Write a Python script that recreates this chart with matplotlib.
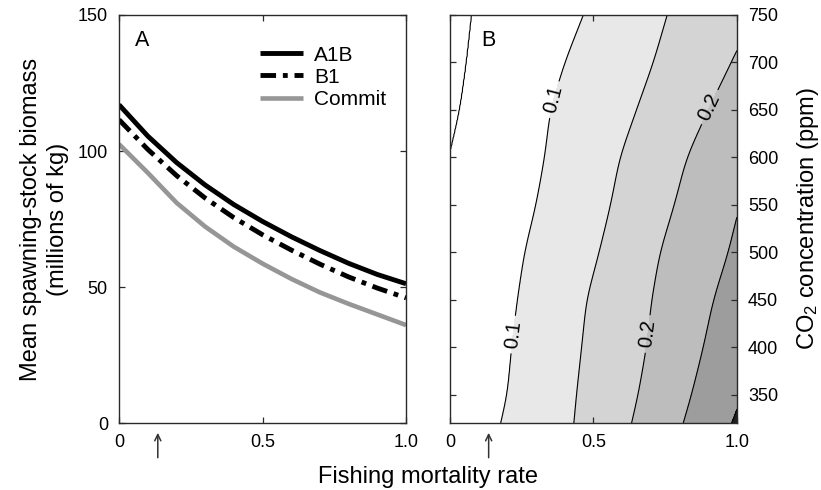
import matplotlib
matplotlib.use('Agg')
import matplotlib.pyplot as plt
import numpy as np

plt.rcParams['font.family'] = ['Liberation Sans', 'DejaVu Sans']
plt.rcParams['mathtext.fontset'] = 'custom'
plt.rcParams['mathtext.rm'] = 'Liberation Sans'
plt.rcParams['mathtext.it'] = 'Liberation Sans:italic'


# panel A - biomass against fishing rate
fishing_rate = [0, 0.1, 0.2, 0.3, 0.4, 0.5, 0.6, 0.7, 0.8, 0.9, 1.0]
biomass_a1b = [117, 105.5, 95.8, 87.5, 80.3, 74.1, 68.5, 63.4, 58.7, 54.6, 51.2]
biomass_b1 = [111.5, 100.6, 91, 82.7, 75.5, 69.2, 63.6, 58.4, 53.7, 49.6, 46]
biomass_commit = [102.5, 92, 81, 72.2, 64.8, 58.6, 53, 48, 43.8, 39.9, 36]

# panel B - fishing rate where each contour level crosses a CO2 row
co2_rows = [320, 350, 400, 450, 500, 550, 600, 650, 700, 750]
contour_levels = [0.05, 0.1, 0.15, 0.2, 0.25, 0.3]
labelled_levels = [0.1, 0.2]
cross_005 = [-0.2, -0.18, -0.15, -0.12, -0.09, -0.05, -0.003, 0.035, 0.058, 0.076]
cross_010 = [0.177, 0.2, 0.215, 0.235, 0.26, 0.30, 0.33, 0.35, 0.40, 0.465]
cross_015 = [0.432, 0.441, 0.459, 0.476, 0.52, 0.56, 0.592, 0.65, 0.709, 0.757]
cross_020 = [0.633, 0.656, 0.685, 0.703, 0.732, 0.782, 0.825, 0.9, 0.98, 1.06]
cross_025 = [0.813, 0.842, 0.883, 0.918, 0.97, 1.01, 1.07, 1.13, 1.2, 1.27]
cross_030 = [0.981, 1.02, 1.07, 1.12, 1.17, 1.22, 1.28, 1.34, 1.40, 1.46]

current_rate = 0.135


def smooth_along(vals, width=41):
    # hanning smoothing so the contour lines don't kink at each row
    k = np.hanning(width)
    k = k / k.sum()
    half = width // 2
    v = np.pad(vals, half, mode='reflect', reflect_type='odd')
    return np.convolve(v, k, mode='valid')


fig = plt.figure(figsize=(8.21, 4.9), dpi=100)
ax1 = fig.add_axes([0.145, 0.1367, 0.3496, 0.8327])
ax2 = fig.add_axes([0.548, 0.1367, 0.3496, 0.8327])

frame_col = '#2a2a2a'

# ---- panel A
ax1.plot(fishing_rate, biomass_a1b, color='black', lw=3.5, label='A1B', solid_capstyle='butt')
ax1.plot(fishing_rate, biomass_b1, color='black', lw=3.5, label='B1',
         dashes=(3.2, 1.4, 1.0, 1.4), dash_capstyle='butt')
ax1.plot(fishing_rate, biomass_commit, color='#969696', lw=3.3, label='Commit', solid_capstyle='butt')

ax1.set_xlim(0, 1)
ax1.set_ylim(0, 150)
ax1.set_xticks([0, 0.5, 1.0])
ax1.set_xticklabels(['0', '0.5', '1.0'])
ax1.set_yticks([0, 50, 100, 150])
ax1.set_ylabel('Mean spawning-stock biomass\n(millions of kg)', fontsize=17, linespacing=1.3)
ax1.yaxis.set_label_coords(-0.174, 0.5)
ax1.text(0.056, 0.962, 'A', transform=ax1.transAxes, fontsize=15.5, va='top', ha='left')

ax1.legend(loc='upper left', bbox_to_anchor=(0.49, 0.925), frameon=False, fontsize=15,
           handlelength=2.1, handletextpad=0.5, labelspacing=0.15, borderpad=0, borderaxespad=0)

# ---- panel B
yy = np.linspace(320, 750, 240)
xx = np.linspace(0, 1, 300)
crossings = [cross_005, cross_010, cross_015, cross_020, cross_025, cross_030]
fine = [smooth_along(np.interp(yy, co2_rows, c)) for c in crossings]
Z = np.zeros((len(yy), len(xx)))
for i in range(len(yy)):
    p = [f[i] for f in fine]
    Z[i] = np.interp(xx, [-2] + p + [3], [0.0] + contour_levels + [0.5])

fill_levels = [0] + contour_levels + [0.5]
fill_cols = ['white', 'white', '#e8e8e8', '#d4d4d4', '#bdbdbd', '#9d9d9d', '#1e1e1e']
ax2.contourf(xx, yy, Z, levels=fill_levels, colors=fill_cols)
plain_levels = [l for l in contour_levels if l not in labelled_levels]
ax2.contour(xx, yy, Z, levels=plain_levels, colors='black', linewidths=0.8)
cs = ax2.contour(xx, yy, Z, levels=labelled_levels, colors='black', linewidths=0.8)
ax2.clabel(cs, fmt='%g', fontsize=14.5, inline=True,
           manual=[(0.36, 661), (0.203, 414), (0.912, 652), (0.685, 414)])

ax2.set_xlim(0, 1)
ax2.set_ylim(320, 750)
ax2.set_xticks([0, 0.5, 1.0])
ax2.set_xticklabels(['0', '0.5', '1.0'])
ax2.set_yticks([350, 400, 450, 500, 550, 600, 650, 700, 750])
ax2.yaxis.set_label_position('right')
ax2.set_ylabel(r'CO$_2$ concentration (ppm)', fontsize=17)
ax2.yaxis.set_label_coords(1.203, 0.5)
ax2.text(0.11, 0.962, 'B', transform=ax2.transAxes, fontsize=15.5, va='top', ha='left')

for ax in (ax1, ax2):
    for s in ax.spines.values():
        s.set_color(frame_col)
        s.set_linewidth(1.0)
    ax.tick_params(direction='in', length=4, width=0.9, color=frame_col, labelsize=13,
                   top=True, right=True, pad=8)
    ax.annotate('', xy=(current_rate, -0.024), xytext=(current_rate, -0.085),
                xycoords=('data', 'axes fraction'), annotation_clip=False,
                arrowprops=dict(arrowstyle='->,head_width=0.22,head_length=0.45',
                                lw=1.1, color='#333333', shrinkA=0, shrinkB=0))

ax2.tick_params(labelleft=False, labelright=True)

fig.text(0.5215, 0.005, 'Fishing mortality rate', fontsize=17, ha='center', va='bottom')

fig.savefig('out.png', dpi=100)
